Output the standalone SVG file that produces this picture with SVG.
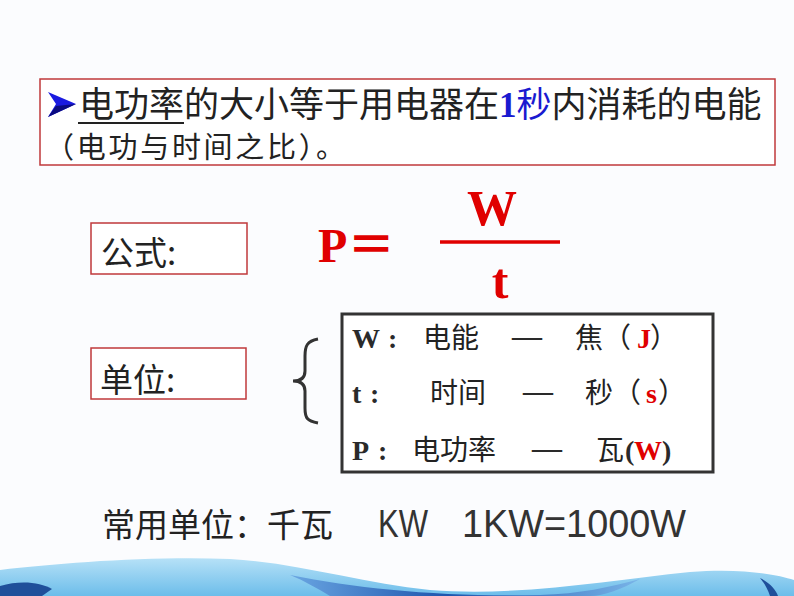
<svg xmlns="http://www.w3.org/2000/svg" width="794" height="596" viewBox="0 0 794 596">
<defs>
<style>
.box{fill:#ffffff;stroke:#c0393b;stroke-width:1.5}
.cjk{font-family:"Noto Sans CJK SC","Liberation Sans",sans-serif;fill:#222}
.ser{font-family:"Liberation Serif","Noto Sans CJK SC",serif;font-weight:bold}
.red{fill:#e00000}
.dk{fill:#2a2a2a}
</style>
<linearGradient id="sea" x1="0" y1="0" x2="0" y2="1">
<stop offset="0" stop-color="#b6e1f7"/>
<stop offset="1" stop-color="#6cbdea"/>
</linearGradient>
<linearGradient id="deep" x1="0" y1="0" x2="1" y2="0">
<stop offset="0" stop-color="#6aa6e2"/>
<stop offset="0.45" stop-color="#1e55ad"/>
<stop offset="1" stop-color="#79b4e8"/>
</linearGradient>
</defs>
<rect width="794" height="596" fill="#fbfcfe"/>
<!-- bottom water -->
<path d="M0,570 C60,563 150,556 230,559 C300,563 360,583 430,590 C520,597 610,580 690,572 C740,568 775,574 794,580 L794,596 L0,596 Z" fill="url(#sea)"/>
<path d="M290,575 C360,589 440,597 540,595 C580,594 610,587 640,579 C622,589 604,596 590,596 L330,596 C318,589 305,581 290,575 Z" fill="url(#deep)"/>
<path d="M0,586 C20,580 40,582 52,589 L42,596 L0,596 Z" fill="#1f4f9a"/>
<path d="M760,578 C770,583 776,590 778,596 L770,596 C768,590 765,584 760,578 Z" fill="#1f4f9a"/>

<g id="top">
<rect class="box" x="40" y="79" width="735" height="86"/>
<polygon points="48,92 76,104 48,117 56,104" fill="#1a1ae0"/>
<polygon points="48,117 76,104 56,106" fill="#0b0b80"/>
<text x="79" y="117" font-size="35" class="cjk">电功率的大小等于用电器在<tspan class="ser" fill="#1a1ad0">1</tspan><tspan fill="#1a1ad0">秒</tspan>内消耗的电能</text>
<line x1="78" y1="123" x2="184" y2="123" stroke="#222" stroke-width="2"/>
<text x="45" y="158" font-size="29" class="cjk" textLength="300" lengthAdjust="spacing">（电功与时间之比）。</text>
</g>

<g id="formula-label">
<rect class="box" x="91" y="223" width="156" height="51"/>
<text x="101" y="265" font-size="33" class="cjk">公式:</text>
</g>

<g id="formula">
<text x="318" y="262" font-size="48" class="ser red">P＝</text>
<text x="492" y="225" font-size="50" class="ser red" text-anchor="middle">W</text>
<line x1="440" y1="242" x2="560" y2="242" stroke="#e00000" stroke-width="3.5"/>
<text x="500" y="298" font-size="50" class="ser red" text-anchor="middle">t</text>
</g>

<g id="unit-label">
<rect class="box" x="91" y="348" width="155" height="51"/>
<text x="100" y="392" font-size="33" class="cjk">单位:</text>
</g>

<g id="connectors">
<path d="M318,339 C307,341 305,346 305,356 L305,371 C305,378 301,381 293,381 C301,381 305,384 305,391 L305,408 C305,418 307,421 318,423" fill="none" stroke="#333" stroke-width="3"/>
</g>

<g id="units">
<rect x="342" y="314" width="371" height="158" fill="#ffffff" stroke="#333" stroke-width="3"/>
<text x="352" y="348" font-size="28" class="ser dk">W</text>
<text x="388" y="348" font-size="28" class="ser dk">:</text>
<text x="423" y="348" font-size="28" class="cjk">电能</text>
<text x="512" y="346" font-size="30" class="ser dk" font-weight="normal">—</text>
<text x="575" y="348" font-size="28" class="cjk">焦（</text>
<text x="637" y="348" font-size="28" class="ser red">J</text>
<text x="650" y="348" font-size="28" class="cjk">）</text>

<text x="352" y="403" font-size="28" class="ser dk">t</text>
<text x="370" y="403" font-size="28" class="ser dk">:</text>
<text x="430" y="403" font-size="28" class="cjk">时间</text>
<text x="523" y="401" font-size="30" class="ser dk" font-weight="normal">—</text>
<text x="585" y="403" font-size="28" class="cjk">秒（</text>
<text x="646" y="403" font-size="28" class="ser red">s</text>
<text x="658" y="403" font-size="28" class="cjk">）</text>

<text x="352" y="460" font-size="28" class="ser dk">P</text>
<text x="378" y="460" font-size="28" class="ser dk">:</text>
<text x="412" y="460" font-size="28" class="cjk">电功率</text>
<text x="532" y="458" font-size="30" class="ser dk" font-weight="normal">—</text>
<text x="596" y="460" font-size="28" class="cjk">瓦</text>
<text x="625" y="460" font-size="28" class="ser dk">(</text>
<text x="634" y="460" font-size="28" class="ser red">W</text>
<text x="662" y="460" font-size="28" class="ser dk">)</text>
</g>

<g id="common-unit">
<text x="102" y="537" font-size="33" class="cjk" fill="#333">常用单位：千瓦</text>
<text x="378" y="537" font-size="38" font-family="Liberation Sans, Arial, sans-serif" fill="#333" textLength="50" lengthAdjust="spacingAndGlyphs">KW</text>
<text x="462" y="537" font-size="38" font-family="Liberation Sans, Arial, sans-serif" fill="#333" textLength="224" lengthAdjust="spacingAndGlyphs">1KW=1000W</text>
</g>
</svg>
